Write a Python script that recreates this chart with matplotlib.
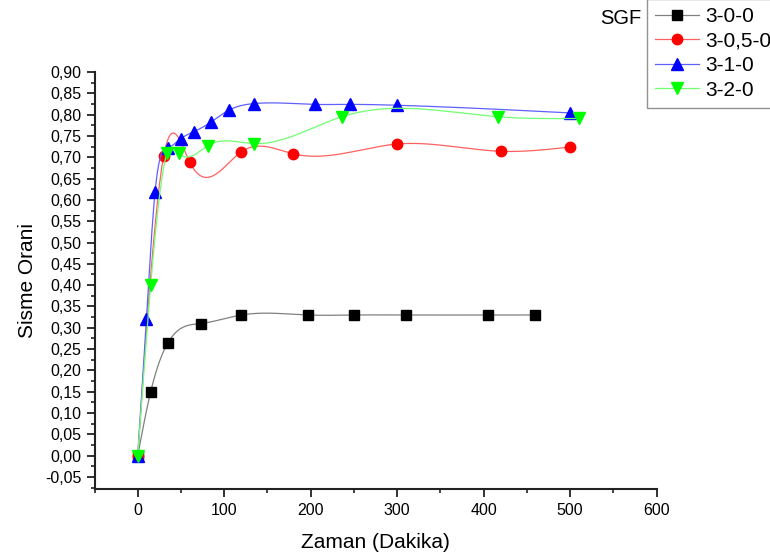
import numpy as np
import matplotlib.pyplot as plt
from matplotlib.ticker import MultipleLocator, FuncFormatter

plt.rcParams['font.family'] = ['Liberation Sans', 'DejaVu Sans']

# swelling ratio vs time for each SGF mixture
t_300 = [0, 15, 35, 73, 120, 197, 250, 310, 405, 460]
v_300 = [0, 0.15, 0.265, 0.31, 0.33, 0.33, 0.33, 0.33, 0.33, 0.33]

t_3050 = [0, 30, 60, 120, 180, 300, 420, 500]
v_3050 = [0, 0.703, 0.689, 0.713, 0.708, 0.731, 0.714, 0.724]

t_310 = [0, 10, 20, 35, 50, 65, 85, 105, 135, 205, 245, 300, 500]
v_310 = [0, 0.32, 0.618, 0.722, 0.744, 0.76, 0.783, 0.81, 0.826, 0.824, 0.824, 0.822, 0.804]

t_320 = [0, 15, 34, 48, 81, 134, 236, 417, 510]
v_320 = [0, 0.40, 0.71, 0.709, 0.727, 0.732, 0.795, 0.795, 0.791]

labels = ['3-0-0', '3-0,5-0', '3-1-0', '3-2-0']


def spline(x, y, n=400):
    # natural cubic spline through the points
    x = np.asarray(x, float)
    y = np.asarray(y, float)
    k = len(x)
    h = np.diff(x)
    A = np.zeros((k, k))
    b = np.zeros(k)
    A[0, 0] = A[-1, -1] = 1
    for i in range(1, k - 1):
        A[i, i - 1] = h[i - 1]
        A[i, i] = 2 * (h[i - 1] + h[i])
        A[i, i + 1] = h[i]
        b[i] = 6 * ((y[i + 1] - y[i]) / h[i] - (y[i] - y[i - 1]) / h[i - 1])
    M = np.linalg.solve(A, b)
    xs = np.linspace(x[0], x[-1], n)
    j = np.clip(np.searchsorted(x, xs) - 1, 0, k - 2)
    dx0 = xs - x[j]
    dx1 = x[j + 1] - xs
    hj = h[j]
    ys = (M[j] * dx1 ** 3 + M[j + 1] * dx0 ** 3) / (6 * hj) \
        + (y[j] / hj - M[j] * hj / 6) * dx1 + (y[j + 1] / hj - M[j + 1] * hj / 6) * dx0
    return xs, ys


fig = plt.figure(figsize=(7.7, 5.56), dpi=100)
ax = fig.add_axes([94.5 / 770, 1 - 488.5 / 556, (656.5 - 94.5) / 770, (488.5 - 72) / 556])

series = [
    (t_300, v_300, 'black', '#808080', 's', 6.5),
    (t_3050, v_3050, 'red', '#ff6060', 'o', 7.5),
    (t_310, v_310, 'blue', '#6060ff', '^', 8.5),
    (t_320, v_320, '#00ff00', '#70ff70', 'v', 8.5),
]
handles = []
for (t, v, mc, lc, m, ms), lab in zip(series, labels):
    xs, ys = spline(t, v)
    ax.plot(xs, ys, color=lc, lw=0.9)
    ax.plot(t, v, ls='none', marker=m, ms=ms, color=mc, mec=mc)
    h, = ax.plot([], [], color=lc, lw=0.9, marker=m, ms=ms, mfc=mc, mec=mc, label=lab)
    handles.append(h)

ax.set_xlim(-50, 600)
ax.set_ylim(-0.077, 0.90)
ax.xaxis.set_major_locator(MultipleLocator(100))
ax.xaxis.set_minor_locator(MultipleLocator(50))
ax.yaxis.set_minor_locator(MultipleLocator(0.025))
ax.yaxis.set_major_formatter(FuncFormatter(lambda v, p: ('%.2f' % v).replace('.', ',').replace('-0,00', '0,00')))
ax.set_yticks(np.arange(-0.05, 0.901, 0.05))

for s in ['top', 'right']:
    ax.spines[s].set_visible(False)
for s in ['left', 'bottom']:
    ax.spines[s].set_linewidth(1.5)
    ax.spines[s].set_color('#222222')
ax.tick_params(which='major', direction='out', length=5.5, width=1.3, labelsize=11.5, color='#222222')
ax.tick_params(which='minor', direction='out', length=3, width=1.2, color='#222222')
ax.tick_params(axis='x', pad=5)
ax.tick_params(axis='y', pad=4)

ax.set_xlabel('Zaman (Dakika)', fontsize=15, labelpad=11)
ax.set_ylabel('Sisme Orani', fontsize=15, labelpad=6)

leg = fig.legend(handles=handles, loc='upper left', bbox_to_anchor=(647 / 770, 1 + 1 / 556),
                 frameon=True, fancybox=False, fontsize=15, handlelength=2.1,
                 borderpad=0.4, labelspacing=0.26, handletextpad=0.3, borderaxespad=0)
leg.get_frame().set_edgecolor('#777777')
leg.get_frame().set_linewidth(1.0)
fig.text(600 / 770, 1 - 18 / 556, 'SGF', fontsize=14.5, va='center')

fig.savefig('out.png', dpi=100)
